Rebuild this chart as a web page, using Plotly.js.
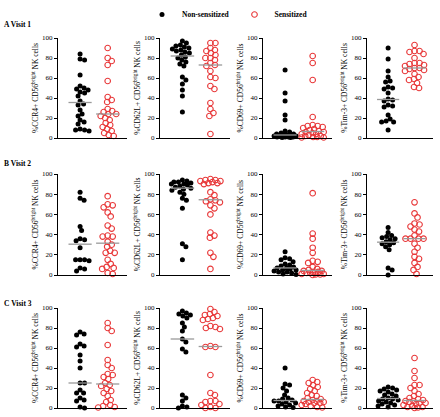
<!DOCTYPE html>
<html>
<head>
<meta charset="utf-8">
<script src="https://cdn.plot.ly/plotly-3.0.1.min.js"></script>
<style>html,body{margin:0;padding:0;background:#fff;}#chart{width:440px;height:417px;}</style>
</head>
<body>
<div id="chart"></div>
<script>
// ---------------- DATA ----------------
const groups = ["Non-sensitized", "Sensitized"];
const visits = ["A Visit 1", "B Visit 2", "C Visit 3"];
const markers = ["CCR4", "CD62L", "CD69", "Tim-3"];

// Visit 1
const ccr4_v1_non  = [84,79,78,63,52,50,49,48,46,45,42,37,34,33,28,24,22,18,16,14,9,8,8,7];
const ccr4_v1_sen  = [90,80,77,73,57,41,38,36,29,27,26,24,24,22,20,18,15,13,11,9,7,5,3,2];
const cd62l_v1_non = [97,95,93,92,91,90,89,88,87,86,85,83,81,80,78,76,74,72,61,58,54,48,42,26];
const cd62l_v1_sen = [95,95,90,88,87,85,83,80,80,78,75,73,72,67,61,60,52,49,35,29,25,22,4];
const cd69_v1_non  = [68,45,37,23,18,7,6,5,4,4,3,3,3,2,2,2,1,1,1,1,0.5,0.5];
const cd69_v1_sen  = [82,75,58,21,13,12,12,11,10,9,8,7,6,6,5,4,4,3,2,2,1,1,0.5,0.5];
const tim3_v1_non  = [90,79,67,61,57,56,51,50,49,45,39,38,37,33,32,31,23,19,17,16,16,8];
const tim3_v1_sen  = [93,87,87,86,84,80,75,75,74,73,72,70,70,69,68,67,64,61,59,58,55,51,50];
// Visit 2
const ccr4_v2_non  = [82,76,74,48,44,36,35,34,27,15,15,15,14,7,6,4];
const ccr4_v2_sen  = [78,70,69,67,62,58,49,46,39,38,38,33,30,28,24,22,22,15,11,8,7,6,2,1];
const cd62l_v2_non = [94,93,92,92,91,90,90,89,88,87,86,85,84,82,80,76,74,66,31,28,15];
const cd62l_v2_sen = [95,94,94,93,93,92,91,91,90,82,79,75,74,73,72,69,66,60,42,39,37,22,18,6];
const cd69_v2_non  = [23,17,16,15,13,11,10,9,8,7,7,6,5,5,4,3,3,2,1,0.5];
const cd69_v2_sen  = [81,41,36,27,22,14,13,12,8,6,5,4,4,3,3,2,2,1,1,0.5,0.5,0];
const tim3_v2_non  = [47,42,39,38,37,36,35,33,32,31,30,28,25,7,5,0];
const tim3_v2_sen  = [72,61,57,51,50,48,45,43,39,36,36,36,36,31,27,23,18,16,12,8,5,1];
// Visit 3
const ccr4_v3_non  = [76,74,73,64,62,61,53,47,40,25,25,18,15,15,10,8,7,1,0];
const ccr4_v3_sen  = [85,80,77,63,48,43,40,34,33,31,29,25,23,22,19,17,15,12,8,6,3,2,1,0.5];
const cd62l_v3_non = [97,95,94,93,92,90,85,81,77,69,66,59,56,13,10,7,2,1,0];
const cd62l_v3_sen = [99,96,94,93,92,90,89,88,82,81,80,79,62,61,61,33,15,13,7,7,6,4,3,1,0,0];
const cd69_v3_non  = [40,24,23,20,17,13,10,9,8,7,7,6,5,4,3,2,1,0.5];
const cd69_v3_sen  = [28,26,25,23,21,19,17,15,13,12,10,9,8,7,7,6,6,5,5,4,3,2,1,0.5];
const tim3_v3_non  = [21,20,19,18,17,16,14,13,12,10,9,9,8,7,6,5,4,3,2,1];
const tim3_v3_sen  = [50,37,30,23,23,20,17,14,12,10,9,8,7,7,6,5,5,4,3,2,1,1,0.5,0];

const panels = [
  [[ccr4_v1_non, ccr4_v1_sen], [cd62l_v1_non, cd62l_v1_sen], [cd69_v1_non, cd69_v1_sen], [tim3_v1_non, tim3_v1_sen]],
  [[ccr4_v2_non, ccr4_v2_sen], [cd62l_v2_non, cd62l_v2_sen], [cd69_v2_non, cd69_v2_sen], [tim3_v2_non, tim3_v2_sen]],
  [[ccr4_v3_non, ccr4_v3_sen], [cd62l_v3_non, cd62l_v3_sen], [cd69_v3_non, cd69_v3_sen], [tim3_v3_non, tim3_v3_sen]]
];

// ---------------- LAYOUT / STYLE ----------------
const W = 440, H = 417;
const colPx = [[58,127],[160,230],[263,332],[367,433]];
const rowPx = [[38,138],[174,275],[308,408]];
const XR = [-0.8, 1.7];
const FONT = "Liberation Serif, Times New Roman, serif";
const RED = "#e8393a";

function median(a){
  const s = a.slice().sort((p,q)=>p-q); const n = s.length;
  return n % 2 ? s[(n-1)/2] : (s[n/2-1] + s[n/2]) / 2;
}
// beeswarm offsets computed from the values (pixel space)
function swarm(vals, pxPerX, pxPerY, d, maxOff){
  const order = vals.map((v,i)=>i).sort((a,b)=>vals[b]-vals[a]);
  const placed = []; const xs = new Array(vals.length);
  for (const i of order){
    const y = vals[i]*pxPerY;
    let best = 0, bestScore = -1;
    const nK = Math.round(2*maxOff/0.5);
    for (let k=0; k<=nK; k++){
      const off = (k%2===1 ? 1 : -1) * Math.ceil(k/2) * 0.5;
      let minD = Infinity;
      for (const p of placed){ const dd = Math.hypot(p.x-off, p.y-y); if (dd<minD) minD = dd; }
      if (minD >= d){ best = off; bestScore = Infinity; break; }
      if (minD > bestScore){ bestScore = minD; best = off; }
    }
    placed.push({x:best, y}); xs[i] = best/pxPerX;
  }
  return xs;
}

const traces = [];
const layout = {
  width: W, height: H, margin: {l:0, r:0, t:0, b:0},
  paper_bgcolor: "#fff", plot_bgcolor: "#fff",
  font: {family: FONT, color: "#000", size: 7},
  showlegend: true,
  legend: {orientation: "h", x: 142/W, y: 1.0, xanchor: "left", yanchor: "top",
           font: {family: FONT, size: 7.5, color: "#000", weight: "bold"},
           bgcolor: "rgba(0,0,0,0)", itemwidth: 30, traceorder: "normal"},
  annotations: []
};

let idx = 0;
for (let r=0; r<3; r++){
  for (let c=0; c<4; c++){
    idx++;
    const xa = idx===1 ? "x" : "x"+idx, ya = idx===1 ? "y" : "y"+idx;
    const xk = idx===1 ? "xaxis" : "xaxis"+idx, yk = idx===1 ? "yaxis" : "yaxis"+idx;
    const pw = colPx[c][1]-colPx[c][0], ph = rowPx[r][1]-rowPx[r][0];
    const pxPerX = pw/(XR[1]-XR[0]), pxPerY = ph/100;
    layout[xk] = {domain:[colPx[c][0]/W, colPx[c][1]/W], anchor: ya, range: XR,
      showline: true, linecolor: "#000", linewidth: 1, showgrid: false, zeroline: false,
      showticklabels: false, ticks: "", fixedrange: true};
    layout[yk] = {domain:[1-rowPx[r][1]/H, 1-rowPx[r][0]/H], anchor: xa, range: [0,100],
      tickvals: [0,20,40,60,80,100], ticks: "outside", ticklen: 3, tickwidth: 1, tickcolor: "#000",
      showline: true, linecolor: "#000", linewidth: 1, showgrid: false, zeroline: false,
      tickfont: {family: FONT, size: 7, color: "#000"},
      title: {text: "%" + markers[c] + "+ CD56<sup>bright</sup> NK cells", font: {family: FONT, size: 7.5, color: "#000"}, standoff: 2},
      fixedrange: true};
    for (let g=0; g<2; g++){
      const vals = panels[r][c][g];
      const offs = swarm(vals, pxPerX, pxPerY, g===0 ? 4.3 : 4.8, 11);
      traces.push({
        type: "scatter", mode: "markers", xaxis: xa, yaxis: ya,
        x: offs.map(o => g + o), y: vals, cliponaxis: false,
        name: groups[g], legendgroup: groups[g], showlegend: idx===1,
        marker: g===0 ? {symbol: "circle", size: 5, color: "#000"}
                      : {symbol: "circle-open", size: 5.6, color: RED, line: {width: 1.1, color: RED}},
        hoverinfo: "y"
      });
    }
    for (let g=0; g<2; g++){
      const m = median(panels[r][c][g]);
      traces.push({
        type: "scatter", mode: "lines", xaxis: xa, yaxis: ya,
        x: [g-0.42, g+0.42], y: [m, m], cliponaxis: false,
        line: {color: "#9a9a9a", width: 1.3}, showlegend: false, hoverinfo: "skip"
      });
    }
  }
  layout.annotations.push({xref: "paper", yref: "paper", x: 2/W, y: 1-[25,163,303][r]/H,
    xanchor: "left", yanchor: "middle", showarrow: false, text: "<b>" + visits[r] + "</b>",
    font: {family: FONT, size: 7.5, color: "#000"}});
}

Plotly.newPlot("chart", traces, layout, {staticPlot: true, displayModeBar: false});
</script>
</body>
</html>
